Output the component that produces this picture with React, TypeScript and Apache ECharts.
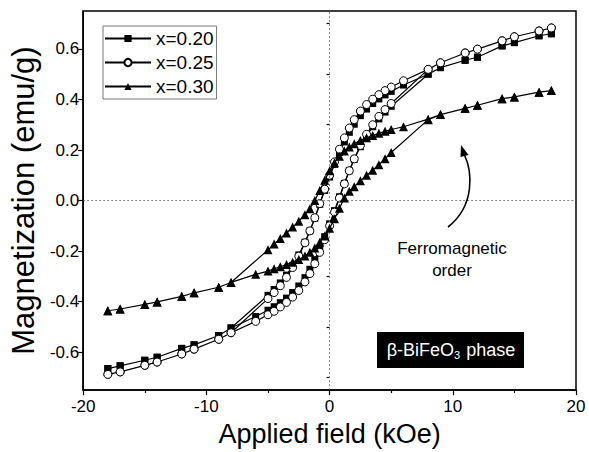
import React, { useEffect, useRef } from "react";
import * as echarts from "echarts";

// Field sweep, kOe: descending branch (+18 → -18) and ascending branch (-18 → +18)
const fieldDown = [
  18, 17, 15, 14, 12, 11, 9, 8, 6, 5, 4.5, 4, 3.5, 3, 2.5, 2, 1.6, 1.2, 0.8, 0.4, 0,
  -0.4, -0.8, -1.2, -1.6, -2, -2.5, -3, -3.5, -4, -4.5, -5, -8, -9, -11, -12, -14, -15, -17, -18,
];
const fieldUp = [
  -18, -17, -15, -14, -12, -11, -9, -8, -6, -5, -4.5, -4, -3.5, -3, -2.5, -2, -1.6, -1.2, -0.8, -0.4, 0,
  0.4, 0.8, 1.2, 1.6, 2, 2.5, 3, 3.5, 4, 4.5, 5, 8, 9, 11, 12, 14, 15, 17, 18,
];

// Magnetization, emu/g
const m020Down = [
  0.66, 0.652, 0.625, 0.612, 0.567, 0.555, 0.526, 0.5, 0.457, 0.432, 0.418, 0.402, 0.384, 0.362, 0.336,
  0.302, 0.27, 0.232, 0.19, 0.143, 0.093, 0.04, -0.015, -0.07, -0.12, -0.165, -0.215, -0.258, -0.295,
  -0.326, -0.352, -0.375, -0.504, -0.534, -0.571, -0.585, -0.62, -0.632, -0.654, -0.665,
];
const m020Up = [
  -0.665, -0.654, -0.632, -0.62, -0.585, -0.571, -0.534, -0.504, -0.459, -0.434, -0.42, -0.404, -0.386,
  -0.364, -0.338, -0.305, -0.272, -0.234, -0.19, -0.143, -0.092, -0.04, 0.015, 0.068, 0.118, 0.163,
  0.213, 0.255, 0.292, 0.323, 0.35, 0.373, 0.5, 0.526, 0.555, 0.567, 0.612, 0.625, 0.652, 0.66,
];
const m025Down = [
  0.683, 0.671, 0.648, 0.632, 0.599, 0.584, 0.545, 0.519, 0.474, 0.449, 0.435, 0.419, 0.401, 0.38, 0.354,
  0.32, 0.287, 0.248, 0.203, 0.153, 0.1, 0.045, -0.012, -0.068, -0.12, -0.167, -0.22, -0.265, -0.304,
  -0.337, -0.364, -0.388, -0.523, -0.549, -0.588, -0.607, -0.639, -0.652, -0.678, -0.688,
];
const m025Up = [
  -0.688, -0.678, -0.652, -0.639, -0.607, -0.588, -0.549, -0.523, -0.478, -0.452, -0.438, -0.421, -0.403,
  -0.382, -0.356, -0.322, -0.289, -0.25, -0.205, -0.155, -0.1, -0.046, 0.01, 0.066, 0.118, 0.165, 0.218,
  0.262, 0.3, 0.333, 0.36, 0.384, 0.519, 0.545, 0.584, 0.599, 0.632, 0.648, 0.671, 0.683,
];
const m030Down = [
  0.435, 0.429, 0.41, 0.403, 0.377, 0.365, 0.34, 0.322, 0.292, 0.281, 0.274, 0.266, 0.257, 0.248, 0.238,
  0.225, 0.212, 0.196, 0.175, 0.15, 0.118, 0.08, 0.04, 0.0, -0.032, -0.056, -0.082, -0.105, -0.128,
  -0.15, -0.172, -0.195, -0.324, -0.343, -0.365, -0.379, -0.401, -0.411, -0.429, -0.436,
];
const m030Up = [
  -0.436, -0.429, -0.411, -0.401, -0.379, -0.365, -0.343, -0.324, -0.292, -0.279, -0.27, -0.262, -0.253,
  -0.244, -0.233, -0.219, -0.205, -0.188, -0.165, -0.14, -0.11, -0.072, -0.03, 0.01, 0.037, 0.055, 0.078,
  0.1, 0.12, 0.142, 0.165, 0.19, 0.32, 0.34, 0.365, 0.377, 0.403, 0.41, 0.429, 0.435,
];

const seriesNames = ["x=0.20", "x=0.25", "x=0.30"];
const yMajorTicks = [-0.6, -0.4, -0.2, 0, 0.2, 0.4, 0.6];
const yMinorTicks = [-0.7, -0.5, -0.3, -0.1, 0.1, 0.3, 0.5, 0.7];

const FONT = "'Liberation Sans', Arial, sans-serif";

function loop(down: number[], up: number[]) {
  const pts: number[][] = [];
  fieldDown.forEach((h, i) => pts.push([h, down[i]]));
  fieldUp.forEach((h, i) => pts.push([h, up[i]]));
  return pts;
}

export default function App() {
  const ref = useRef<HTMLDivElement>(null);

  useEffect(() => {
    if (!ref.current) return;
    const chart = echarts.init(ref.current, undefined, { renderer: "svg" });

    const lineStyle = { color: "#000", width: 1.2 };

    chart.setOption({
      animation: false,
      backgroundColor: "#fff",
      textStyle: { fontFamily: FONT },
      grid: {
        left: 81,
        right: 13,
        top: 11,
        bottom: 54,
        show: true,
        borderColor: "#000",
        borderWidth: 1.5,
        backgroundColor: "transparent",
      },
      legend: {
        orient: "vertical",
        left: 103,
        top: 26,
        data: seriesNames,
        backgroundColor: "#fff",
        borderColor: "#777",
        borderWidth: 1,
        padding: [3, 3, 3, 1],
        itemGap: 5,
        itemWidth: 46,
        itemHeight: 9,
        textStyle: { fontSize: 19, lineHeight: 18, color: "#000", fontFamily: FONT },
      },
      xAxis: {
        type: "value",
        min: -20,
        max: 20,
        interval: 10,
        name: "Applied field (kOe)",
        nameLocation: "middle",
        nameGap: 21,
        nameTextStyle: { fontSize: 27, color: "#000", fontFamily: FONT },
        axisLine: { onZero: false, lineStyle: { color: "#000", width: 1.5 } },
        axisTick: { inside: false, length: 5, lineStyle: { color: "#000", width: 1.2 } },
        minorTick: { show: true, splitNumber: 2, length: 3, lineStyle: { color: "#000", width: 1.2 } },
        axisLabel: { fontSize: 17, color: "#000", margin: 8, fontFamily: FONT },
        splitLine: { show: false },
      },
      yAxis: [
        {
          type: "value",
          min: -0.75,
          max: 0.75,
          name: "Magnetization (emu/g)",
          nameLocation: "middle",
          nameGap: 42,
          nameTextStyle: { fontSize: 31, color: "#000", fontFamily: FONT },
          axisLine: { onZero: false, lineStyle: { color: "#000", width: 1.5 } },
          axisTick: {
            inside: false,
            length: 5,
            customValues: yMajorTicks,
            lineStyle: { color: "#000", width: 1.2 },
          },
          axisLabel: {
            fontSize: 17,
            color: "#000",
            margin: 4,
            fontFamily: FONT,
            customValues: yMajorTicks,
            formatter: (v: number) => v.toFixed(1),
          },
          splitLine: { show: false },
        },
        {
          type: "value",
          min: -0.75,
          max: 0.75,
          position: "left",
          axisLine: { show: false },
          axisTick: {
            inside: false,
            length: 3,
            customValues: yMinorTicks,
            lineStyle: { color: "#000", width: 1.2 },
          },
          axisLabel: { show: false },
          splitLine: { show: false },
        },
      ],
      series: [
        {
          name: seriesNames[0],
          type: "line",
          data: loop(m020Down, m020Up),
          symbol: "rect",
          symbolSize: 7,
          lineStyle,
          itemStyle: { color: "#000" },
          z: 3,
          markLine: {
            silent: true,
            symbol: "none",
            label: { show: false },
            lineStyle: { color: "#666", type: [2, 2], width: 0.8 },
            data: [{ xAxis: 0 }, { yAxis: 0 }],
          },
        },
        {
          name: seriesNames[1],
          type: "line",
          data: loop(m025Down, m025Up),
          symbol: "circle",
          symbolSize: 8,
          lineStyle,
          itemStyle: { color: "#fff", borderColor: "#000", borderWidth: 1 },
          z: 4,
        },
        {
          name: seriesNames[2],
          type: "line",
          data: loop(m030Down, m030Up),
          symbol: "triangle",
          symbolSize: 9,
          lineStyle,
          itemStyle: { color: "#000" },
          z: 5,
        },
      ],
      graphic: [
        {
          type: "bezierCurve",
          shape: { x1: 448, y1: 227, cpx1: 476, cpy1: 205, cpx2: 472, cpy2: 170, x2: 464, y2: 154 },
          style: { stroke: "#000", lineWidth: 1.6, fill: "none" },
          z: 10,
        },
        {
          type: "polygon",
          shape: { points: [[461, 145], [468.5, 155], [460.5, 157]] },
          style: { fill: "#000" },
          z: 10,
        },
        {
          type: "text",
          x: 452,
          y: 248,
          style: {
            text: "Ferromagnetic",
            fontSize: 17,
            fontFamily: FONT,
            fill: "#000",
            align: "center",
            verticalAlign: "middle",
          },
          z: 10,
        },
        {
          type: "text",
          x: 452,
          y: 270,
          style: {
            text: "order",
            fontSize: 17,
            fontFamily: FONT,
            fill: "#000",
            align: "center",
            verticalAlign: "middle",
          },
          z: 10,
        },
        {
          type: "rect",
          shape: { x: 377, y: 332, width: 147, height: 36 },
          style: { fill: "#000" },
          z: 10,
        },
        {
          type: "text",
          x: 451,
          y: 350,
          style: {
            text: "β-BiFeO{sub|3} phase",
            fontSize: 18,
            fontFamily: FONT,
            fill: "#fff",
            align: "center",
            verticalAlign: "middle",
            rich: {
              sub: { fontSize: 11, fill: "#fff", fontFamily: FONT, padding: [10, 1, 0, 0] },
            },
          },
          z: 11,
        },
      ],
    });

    return () => chart.dispose();
  }, []);

  return (
    <div
      ref={ref}
      style={{ position: "absolute", left: 0, top: 0, width: 589, height: 452 }}
    />
  );
}
